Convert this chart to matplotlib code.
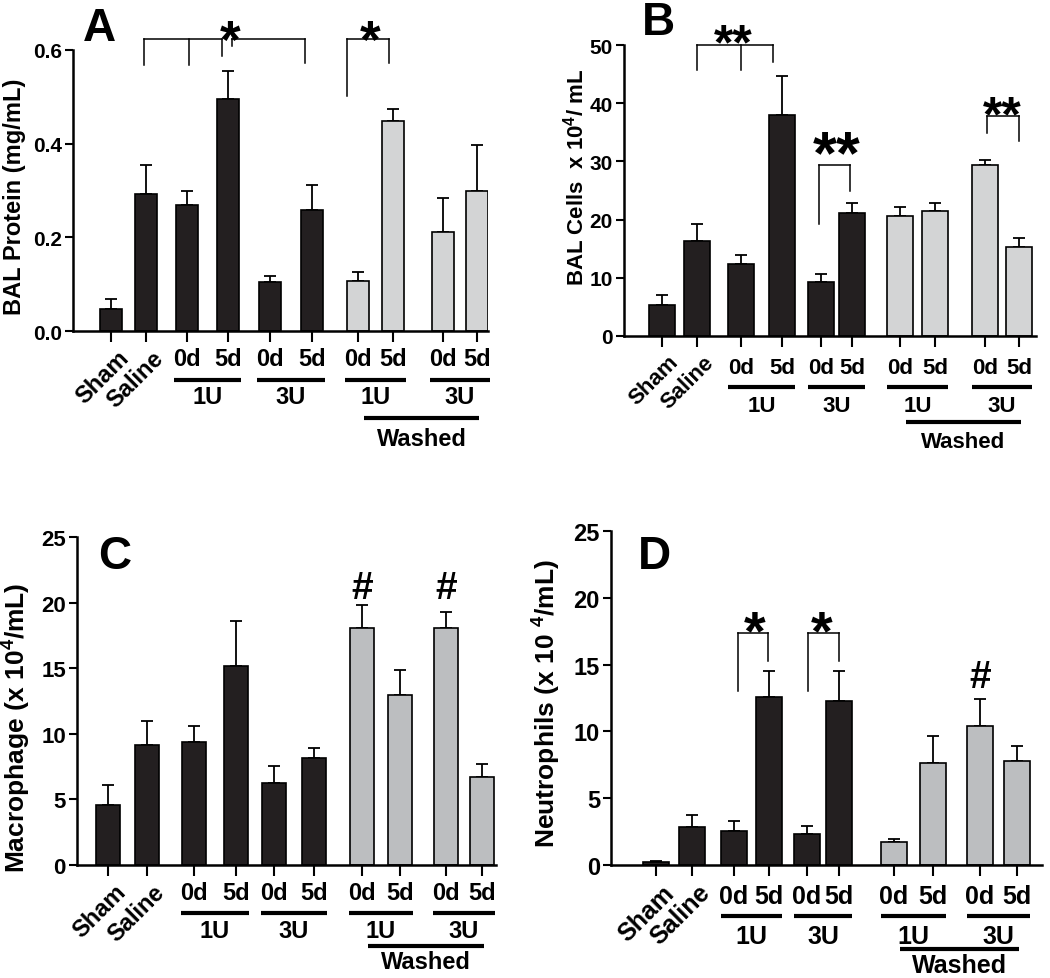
import numpy as np
import matplotlib
matplotlib.use("Agg")
import matplotlib.pyplot as plt
from matplotlib.transforms import blended_transform_factory

plt.rcParams['font.family'] = ['Liberation Sans', 'DejaVu Sans']
plt.rcParams['font.weight'] = 'bold'
plt.rcParams['mathtext.fontset'] = 'custom'
plt.rcParams['mathtext.rm'] = 'Liberation Sans:bold'
plt.rcParams['mathtext.bf'] = 'Liberation Sans:bold'
plt.rcParams['mathtext.default'] = 'bf'

# ---- data ----
groups = ["Sham", "Saline", "1U 0d", "1U 5d", "3U 0d", "3U 5d",
          "W 1U 0d", "W 1U 5d", "W 3U 0d", "W 3U 5d"]
washed = [False] * 6 + [True] * 4

protein_mean = [0.047, 0.292, 0.269, 0.496, 0.105, 0.258, 0.107, 0.448, 0.212, 0.299]
protein_sem = [0.022, 0.062, 0.029, 0.059, 0.012, 0.053, 0.018, 0.027, 0.072, 0.099]

cells_mean = [5.4, 16.3, 12.4, 37.9, 9.2, 21.1, 20.6, 21.4, 29.4, 15.3]
cells_sem = [1.6, 3.0, 1.5, 6.7, 1.5, 1.8, 1.6, 1.5, 0.9, 1.5]

macro_mean = [4.6, 9.13, 9.41, 15.2, 6.26, 8.19, 18.1, 12.98, 18.1, 6.72]
macro_sem = [1.46, 1.84, 1.19, 3.4, 1.27, 0.71, 1.75, 1.92, 1.2, 0.98]

neut_mean = [0.2, 2.82, 2.57, 12.56, 2.32, 12.26, 1.7, 7.64, 10.44, 7.82]
neut_sem = [0.07, 0.93, 0.75, 1.93, 0.63, 2.23, 0.25, 2.05, 2.0, 1.12]

W, H = 1050, 979
DARK = '#231f20'

fig = plt.figure(figsize=(W / 100, H / 100), dpi=100)


def panel(box, xpos, width, mean, sem, ylim, yticks, ylabels, gray, ylabel,
          lab_xy, tfs, xfs, lab_fs, offs, letter, letter_xy):
    l, t, r, b = box
    ax = fig.add_axes([l / W, (H - b) / H, (r - l) / W, (b - t) / H])
    h = b - t
    cols = [gray if w else DARK for w in washed]
    ax.bar(xpos, mean, width=width, color=cols, edgecolor='black', linewidth=1.2, zorder=2)
    ax.errorbar(xpos, mean, yerr=[np.zeros(len(sem)), sem], fmt='none', ecolor='black',
                elinewidth=1.3, capsize=4, capthick=1.3, zorder=1)
    ax.set_xlim(0, r - l)
    ax.set_ylim(*ylim)
    ax.set_yticks(yticks)
    ax.set_yticklabels(ylabels, fontsize=tfs, fontweight='bold')
    ax.set_xticks(xpos)
    ax.set_xticklabels([])
    for s in ['top', 'right']:
        ax.spines[s].set_visible(False)
    for s in ['left', 'bottom']:
        ax.spines[s].set_linewidth(1.8)
    ax.tick_params(axis='y', length=6, width=1.5, pad=2)
    ax.tick_params(axis='x', length=8, width=1.5)
    ax.set_ylabel(ylabel, fontsize=lab_fs, fontweight='bold')
    ax.yaxis.set_label_coords(*lab_xy)

    tr = blended_transform_factory(ax.transData, ax.transAxes)
    dd, ln, un, wl, wt = [-o / h for o in offs]
    for i, name in enumerate(groups[:2]):
        ax.text(xpos[i] + 6, -15 / h, name, transform=tr, rotation=45, ha='right', va='top',
                rotation_mode='anchor', fontsize=xfs)
    for k, unit in zip(range(2, 10, 2), ['1U', '3U', '1U', '3U']):
        x0, x1 = xpos[k], xpos[k + 1]
        ax.text(x0, dd, '0d', transform=tr, ha='center', va='center', fontsize=xfs)
        ax.text(x1, dd, '5d', transform=tr, ha='center', va='center', fontsize=xfs)
        ax.plot([x0 - 13, x1 + 13], [ln, ln], transform=tr, color='black', lw=3,
                solid_capstyle='butt', clip_on=False)
        ax.text((x0 + x1) / 2, un, unit, transform=tr, ha='center', va='center', fontsize=xfs)
    ax.plot([xpos[6] + 6, xpos[9] + 2], [wl, wl], transform=tr, color='black', lw=3,
            solid_capstyle='butt', clip_on=False)
    ax.text((xpos[6] + xpos[9]) / 2 + 4, wt, 'Washed', transform=tr, ha='center', va='center',
            fontsize=xfs)
    fig.text(letter_xy[0] / W, 1 - letter_xy[1] / H, letter, ha='center', va='center',
             fontsize=33, fontweight='bold')
    return ax


def bracket(ax, xs, legs, top):
    ax.plot([xs[0], xs[-1]], [top, top], color='black', lw=1.1, clip_on=False)
    for x, y in zip(xs, legs):
        ax.plot([x, x], [top, y], color='black', lw=1.1, clip_on=False)


def mark(ax, x, y, s, size):
    ax.text(x, y, s, ha='center', va='center', fontsize=size, fontweight='bold', clip_on=False)


# A
axA = panel((73, 51, 488, 332), [38, 73, 114, 155, 197, 239, 285, 320, 370, 404], 22,
            protein_mean, protein_sem, (0, 0.6), [0, 0.2, 0.4, 0.6],
            ['0.0', '0.2', '0.4', '0.6'], '#d3d4d5', 'BAL Protein (mg/mL)',
            (-0.113, 0.48), 15, 17, 17, (28, 49, 66, 87, 108), 'A', (99, 29))
bracket(axA, [71, 116, 149], [0.569, 0.569, 0.587], 0.624)
bracket(axA, [159, 232], [0.609, 0.573], 0.624)
bracket(axA, [274, 316], [0.502, 0.573], 0.624)
mark(axA, 157, 0.615, '*', 38)
mark(axA, 297, 0.615, '*', 38)

# B
axB = panel((624, 46, 1036, 337), [38, 73, 117, 158, 197, 228, 276, 311, 361, 395], 26,
            cells_mean, cells_sem, (0, 50), [0, 10, 20, 30, 40, 50],
            ['0', '10', '20', '30', '40', '50'], '#d3d4d5', r'BAL Cells  x 10$^4$/ mL',
            (-0.085, 0.55), 15, 16, 16, (31, 51, 70, 86, 106), 'B', (658, 23))
bracket(axB, [73, 117, 149], [45.7, 45.7, 47.1], 50)
bracket(axB, [195, 226], [19.3, 25.0], 29.4)
bracket(axB, [363, 395], [34.9, 33.5], 37.8)
mark(axB, 109, 50.0, '**', 36)
mark(axB, 213, 30.8, '**', 44)
mark(axB, 378, 37.6, '**', 36)

# C
axC = panel((77, 538, 496, 866), [31, 70, 117, 159, 197, 237, 285, 323, 369, 405], 24,
            macro_mean, macro_sem, (0, 25), [0, 5, 10, 15, 20, 25],
            ['0', '5', '10', '15', '20', '25'], '#bcbec0', r'Macrophage (x 10$^4$/mL)',
            (-0.105, 0.42), 16, 17, 19, (28, 48, 66, 81, 97), 'C', (115, 557))
mark(axC, 285, 21.1, '#', 28)
mark(axC, 369, 21.1, '#', 28)

# D
axD = panel((611, 532, 1042, 866), [45, 81, 123, 158, 196, 228, 283, 322, 369, 406], 26,
            neut_mean, neut_sem, (0, 25), [0, 5, 10, 15, 20, 25],
            ['0', '5', '10', '15', '20', '25'], '#bcbec0', r'Neutrophils (x 10 $^4$/mL)',
            (-0.111, 0.485), 17, 18, 19, (31, 51, 71, 84, 100), 'D', (654, 557))
bracket(axD, [127, 157], [13.06, 15.3], 17.36)
bracket(axD, [197, 228], [13.06, 15.3], 17.36)
mark(axD, 144, 17.3, '*', 40)
mark(axD, 211, 17.3, '*', 40)
mark(axD, 369, 14.1, '#', 28)

fig.savefig('out.png', dpi=100)
